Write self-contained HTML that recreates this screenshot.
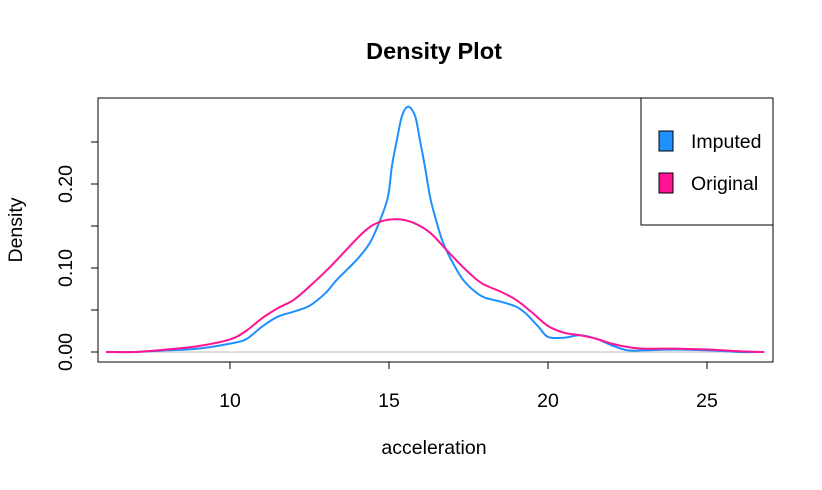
<!DOCTYPE html>
<html><head><meta charset="utf-8"><style>
body{margin:0;background:#fff}
svg text{font-family:"Liberation Sans",Arial,sans-serif;fill:#000}
</style></head><body>
<svg width="822" height="485">
<text x="434" y="59" font-size="23.5" font-weight="bold" text-anchor="middle">Density Plot</text>
<rect x="98" y="98" width="675" height="264" fill="none" stroke="#000"/>
<g id="xaxis"></g>
<g id="yaxis"></g>
<text x="434" y="454" font-size="19.5" text-anchor="middle">acceleration</text>
<text transform="translate(22,230) rotate(-90)" font-size="19.5" text-anchor="middle">Density</text>
<g id="series"></g>
<g>
<rect x="641" y="98" width="132" height="127" fill="#fff" stroke="#000"/>
<rect x="659" y="131" width="14" height="20" fill="#1E90FF" stroke="#000"/>
<text x="691" y="148" font-size="19.5">Imputed</text>
<rect x="659" y="173" width="14" height="20" fill="#FF1493" stroke="#000"/>
<text x="691" y="190" font-size="19.5">Original</text>
</g>
</svg>
<script>
const xTicks=[10,15,20,25];
const yTicks=[0,0.05,0.10,0.15,0.20,0.25];
const yLabels=["0.00","","0.10","","0.20",""];
const impX=[6.1,7,8,9,10,10.5,11,11.5,12,12.5,13,13.36,13.99,14.4,14.72,14.97,15.09,15.25,15.41,15.6,15.82,15.97,16.13,16.29,16.45,16.7,17.01,17.33,17.7,18,18.5,19,19.3,19.7,20,20.5,21,21.5,22,22.5,23,24,25,26,26.8];
const impY=[0,0,0.002,0.004,0.01,0.015,0.03,0.042,0.048,0.055,0.07,0.086,0.11,0.13,0.157,0.185,0.221,0.253,0.281,0.292,0.281,0.253,0.221,0.185,0.161,0.13,0.106,0.086,0.072,0.065,0.06,0.054,0.046,0.03,0.018,0.017,0.02,0.016,0.008,0.002,0.002,0.003,0.002,0,0];
const orgX=[6.1,7,8,9,10,10.5,11,11.5,12,12.5,13.14,14.18,14.72,15.25,15.75,16.29,16.82,17.33,17.7,18,18.5,19,19.5,20,20.5,21,21.5,22,22.5,23,24,25,26,26.8];
const orgY=[0,0,0.003,0.007,0.015,0.025,0.04,0.052,0.062,0.078,0.101,0.142,0.155,0.158,0.154,0.142,0.121,0.101,0.088,0.08,0.072,0.062,0.047,0.031,0.023,0.02,0.016,0.01,0.006,0.004,0.004,0.003,0.001,0];
const NS="http://www.w3.org/2000/svg";
const sx=v=>230+(v-10)*31.8;
const sy=v=>352-v*840;
function mk(tag,attrs,parent){const e=document.createElementNS(NS,tag);for(const k in attrs)e.setAttribute(k,attrs[k]);parent.appendChild(e);return e;}
const xa=document.getElementById('xaxis'),ya=document.getElementById('yaxis'),sr=document.getElementById('series');
mk('line',{x1:sx(10),x2:sx(25),y1:362,y2:362,stroke:'#000'},xa);
xTicks.forEach(t=>{
 const l=mk('line',{x1:sx(t),x2:sx(t),y1:362,y2:369,stroke:'#000'},xa);
 
 
 const tx=mk('text',{x:sx(t),y:407,'font-size':19.5,'text-anchor':'middle'},xa);tx.textContent=t;
 
 
});
mk('line',{x1:98,x2:98,y1:sy(0),y2:sy(0.25),stroke:'#000'},ya);
yTicks.forEach((t,i)=>{
 const l=mk('line',{x1:91,x2:98,y1:sy(t),y2:sy(t),stroke:'#000'},ya);
 
 
 if(yLabels[i]){const tx=mk('text',{transform:`translate(72,${sy(t)}) rotate(-90)`,'font-size':19.5,'text-anchor':'middle'},ya);tx.textContent=yLabels[i];
 
 }
});
const base=mk('line',{x1:sx(6.1),x2:sx(26.8),y1:sy(0),y2:sy(0),stroke:'#bebebe'},sr);


function path(xs,ys,c,name){
 const P=xs.map((x,i)=>[sx(x),sy(ys[i])]);
 let d='M'+P[0][0].toFixed(1)+','+P[0][1].toFixed(1);
 for(let i=0;i<P.length-1;i++){
  const p0=P[Math.max(0,i-1)],p1=P[i],p2=P[i+1],p3=P[Math.min(P.length-1,i+2)];
  const t=0.5/3;
  const c1=[p1[0]+(p2[0]-p0[0])*t,p1[1]+(p2[1]-p0[1])*t];
  const c2=[p2[0]-(p3[0]-p1[0])*t,p2[1]-(p3[1]-p1[1])*t];
  d+='C'+c1.map(v=>v.toFixed(1))+' '+c2.map(v=>v.toFixed(1))+' '+p2.map(v=>v.toFixed(1));
 }
 const p=mk('path',{d:d,fill:'none',stroke:c,'stroke-width':2,'stroke-linejoin':'round'},sr);
 
 
}
path(impX,impY,'#1E90FF','imputed-density-line');
path(orgX,orgY,'#FF1493','original-density-line');
</script>
</body></html>
